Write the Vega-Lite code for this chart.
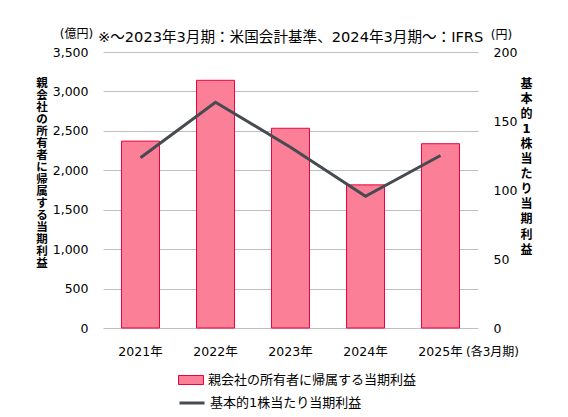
{
  "$schema": "https://vega.github.io/schema/vega-lite/v6.json",
  "autosize": {"type": "none"},
  "padding": {"left": 103, "top": 52, "right": 90, "bottom": 89},
  "width": 375,
  "height": 276,
  "title": {
    "text": "※～2023年3月期：米国会計基準、2024年3月期～：IFRS",
    "anchor": "start",
    "frame": "group",
    "dx": -5,
    "dy": 26,
    "fontSize": 14.6,
    "fontWeight": "normal",
    "color": "#000000",
    "offset": 8
  },
  "data": {
    "values": [
      {"year": "2021年", "profit": 2370, "eps": 123.4},
      {"year": "2022年", "profit": 3141, "eps": 163.6},
      {"year": "2023年", "profit": 2533, "eps": 131},
      {"year": "2024年", "profit": 1815, "eps": 95.5},
      {"year": "2025年", "profit": 2337, "eps": 125}
    ]
  },
  "encoding": {
    "x": {
      "field": "year",
      "type": "nominal",
      "scale": {"paddingInner": 0.493, "paddingOuter": 0.2465},
      "axis": {
        "title": "(各3月期)",
        "titleX": 389,
        "titleY": 23.5,
        "titleAlign": "center",
        "titleBaseline": "middle",
        "titleFontSize": 12,
        "titleFontWeight": "normal",
        "labelAngle": 0,
        "labelFontSize": 12.5,
        "labelPadding": 23,
        "labelBaseline": "middle",
        "ticks": false,
        "domain": false,
        "grid": false
      }
    }
  },
  "layer": [
    {
      "mark": {"type": "bar", "stroke": "#e8043d", "strokeWidth": 1},
      "encoding": {
        "y": {
          "field": "profit",
          "type": "quantitative",
          "scale": {"domain": [0, 3500]},
          "axis": {
            "orient": "left",
            "values": [0, 500, 1000, 1500, 2000, 2500, 3000, 3500],
            "format": ",.0f",
            "title": "(億円)",
            "titleAngle": 0,
            "titleX": -27,
            "titleY": -19,
            "titleAlign": "center",
            "titleBaseline": "middle",
            "titleFontSize": 12,
            "titleFontWeight": "normal",
            "grid": true,
            "gridColor": "#bfbfbf",
            "ticks": false,
            "domain": false,
            "labelPadding": 15,
            "labelFontSize": 12.5
          }
        },
        "fill": {
          "datum": "親会社の所有者に帰属する当期利益",
          "type": "nominal",
          "scale": {"range": ["#fb7f96"]},
          "legend": {
            "title": null,
            "orient": "none",
            "legendX": 75,
            "legendY": 318.5,
            "padding": 0,
            "symbolType": "M-1,-0.5H1.78V0.5H-1Z",
            "symbolSize": 324,
            "symbolStrokeColor": "#e8043d",
            "symbolStrokeWidth": 1,
            "symbolOpacity": 1,
            "labelOffset": 11,
            "labelFontSize": 13,
            "labelColor": "#000000",
            "labelLimit": 400
          }
        }
      }
    },
    {
      "mark": {"type": "line", "strokeWidth": 3},
      "encoding": {
        "y": {
          "field": "eps",
          "type": "quantitative",
          "scale": {"domain": [0, 200]},
          "axis": {
            "orient": "right",
            "values": [0, 50, 100, 150, 200],
            "title": "(円)",
            "titleAngle": 0,
            "titleX": 23,
            "titleY": -18,
            "titleAlign": "center",
            "titleBaseline": "middle",
            "titleFontSize": 12,
            "titleFontWeight": "normal",
            "grid": false,
            "ticks": false,
            "domain": false,
            "labelPadding": 15,
            "labelFontSize": 12.5
          }
        },
        "stroke": {
          "datum": "基本的1株当たり当期利益",
          "type": "nominal",
          "scale": {"range": ["#464b51"]},
          "legend": {
            "title": null,
            "orient": "none",
            "legendX": 75,
            "legendY": 340.5,
            "padding": 0,
            "symbolType": "M-1,0H1.78",
            "symbolSize": 324,
            "symbolStrokeWidth": 3,
            "symbolOpacity": 1,
            "labelOffset": 11,
            "labelFontSize": 13,
            "labelColor": "#000000",
            "labelLimit": 400
          }
        }
      }
    },
    {
      "mark": {"type": "point", "opacity": 0},
      "encoding": {
        "y": {
          "field": "profit",
          "type": "quantitative",
          "scale": {"domain": [0, 3500]},
          "axis": {
            "orient": "left",
            "labels": false,
            "ticks": false,
            "domain": false,
            "grid": false,
            "title": ["親", "会", "社", "の", "所", "有", "者", "に", "帰", "属", "す", "る", "当", "期", "利", "益"],
            "titleAngle": 0,
            "titleX": -61.5,
            "titleY": 25,
            "titleAlign": "center",
            "titleBaseline": "top",
            "titleLineHeight": 12,
            "titleFontSize": 11.5,
            "titleFontWeight": "bold"
          }
        }
      }
    },
    {
      "mark": {"type": "point", "opacity": 0},
      "encoding": {
        "y": {
          "field": "eps",
          "type": "quantitative",
          "scale": {"domain": [0, 200]},
          "axis": {
            "orient": "right",
            "labels": false,
            "ticks": false,
            "domain": false,
            "grid": false,
            "title": ["基", "本", "的", "1", "株", "当", "た", "り", "当", "期", "利", "益"],
            "titleAngle": 0,
            "titleX": 48,
            "titleY": 26,
            "titleAlign": "center",
            "titleBaseline": "top",
            "titleLineHeight": 15.1,
            "titleFontSize": 12,
            "titleFontWeight": "bold"
          }
        }
      }
    }
  ],
  "resolve": {"scale": {"y": "independent"}},
  "config": {
    "font": "DejaVu Sans, Noto Sans CJK JP",
    "view": {"stroke": null},
    "axis": {"labelColor": "#000000", "titleColor": "#000000", "labelFont": "DejaVu Sans, Noto Sans CJK JP", "titleFont": "DejaVu Sans, Noto Sans CJK JP"},
    "legend": {"labelFont": "DejaVu Sans, Noto Sans CJK JP"},
    "title": {"font": "DejaVu Sans, Noto Sans CJK JP"}
  }
}
